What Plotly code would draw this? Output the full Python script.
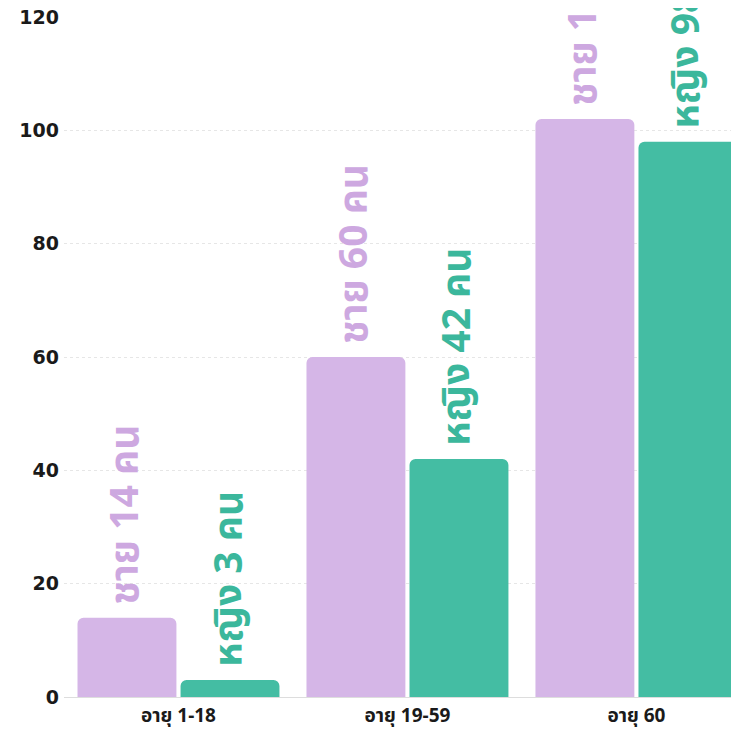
import plotly.graph_objects as go

categories = ["อายุ 1-18", "อายุ 19-59", "อายุ 60"]
male_values = [14, 60, 102]
female_values = [3, 42, 98]
male_labels = ["ชาย 14 คน", "ชาย 60 คน", "ชาย 102 คน"]
female_labels = ["หญิง 3 คน", "หญิง 42 คน", "หญิง 98 คน"]
y_ticks = [0, 20, 40, 60, 80, 100, 120]

MALE = "#d5b6e7"
MALE_TXT = "#cda8e0"
FEMALE = "#44bda3"
FEMALE_TXT = "#3bb79c"
FONT = "Noto Sans Thai, Noto Sans, Roboto, sans-serif"
PAD = "\u00a0"

fig = go.Figure()
fig.add_trace(go.Bar(
    x=categories, y=male_values, name="ชาย",
    marker=dict(color=MALE, line=dict(width=0)),
    text=[PAD + t for t in male_labels], textposition="outside", textangle=-90,
    textfont=dict(color=MALE_TXT, size=39, family=FONT, weight="bold"),
    constraintext="none", cliponaxis=False,
))
fig.add_trace(go.Bar(
    x=categories, y=female_values, name="หญิง",
    marker=dict(color=FEMALE, line=dict(width=0)),
    text=[PAD + t for t in female_labels], textposition="outside", textangle=-90,
    textfont=dict(color=FEMALE_TXT, size=39, family=FONT, weight="bold"),
    constraintext="none", cliponaxis=False,
))

fig.update_layout(
    width=731, height=724,
    margin=dict(l=56, r=0, t=9, b=35, autoexpand=False),
    paper_bgcolor="white", plot_bgcolor="white",
    barmode="group", bargap=0.1, bargroupgap=0.04,
    barcornerradius=6,
    showlegend=False,
    font=dict(family=FONT, color="#1a1a1a"),
    xaxis=dict(
        range=[-0.5, 2.448], showgrid=False, zeroline=False, showline=False,
        tickfont=dict(size=19, weight="bold", color="#1a1a1a"), ticks="",
        automargin=False, ticklabelstandoff=5,
    ),
    yaxis=dict(
        range=[0, 120], tickvals=y_ticks, showgrid=True,
        gridcolor="#e6e6e6", griddash="dot", gridwidth=1,
        zeroline=True, zerolinecolor="#dddddd", zerolinewidth=1,
        showline=False, ticks="", automargin=False,
        tickfont=dict(size=19, weight="bold", color="#1a1a1a",
                      family="DejaVu Sans, sans-serif"),
        ticklabelstandoff=4, ticklabeloverflow="allow",
    ),
)

fig.write_html("out.html")
